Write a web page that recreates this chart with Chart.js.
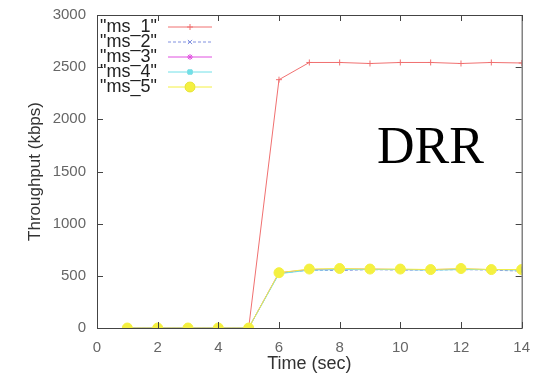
<!DOCTYPE html>
<html>
<head>
<meta charset="utf-8">
<script src="https://cdn.jsdelivr.net/npm/chart.js@4/dist/chart.umd.min.js"></script>
<style>
  body { margin: 0; background: #fff; }
  #wrap { width: 533px; height: 375px; }
</style>
</head>
<body>
<div id="wrap"><canvas id="dataChart"></canvas></div>
<script>
// data
var times = [1, 2, 3, 4, 5, 6, 7, 8, 9, 10, 11, 12, 13, 14];
var ms1 = [0, 0, 0, 0, 0, 2380, 2545, 2545, 2535, 2545, 2545, 2535, 2545, 2540];
var ms2 = [0, 0, 0, 0, 0, 525, 555, 550, 560, 555, 555, 560, 555, 545];
var ms3 = [0, 0, 0, 0, 0, 530, 560, 565, 565, 560, 560, 565, 560, 560];
var ms4 = [0, 0, 0, 0, 0, 520, 555, 560, 560, 560, 555, 560, 560, 555];
var ms5 = [0, 0, 0, 0, 0, 530, 565, 570, 565, 565, 560, 570, 560, 560];
var seriesNames = ['"ms_1"', '"ms_2"', '"ms_3"', '"ms_4"', '"ms_5"'];
var yTicks = [0, 500, 1000, 1500, 2000, 2500, 3000];
var xTicks = [0, 2, 4, 6, 8, 10, 12, 14];

function pts(vals) {
    return times.map(function(t, i) { return { x: t, y: vals[i] }; });
}

var styles = [
    { color: '#f07070', point: 'cross', dash: [] },
    { color: '#8090e0', point: 'crossRot', dash: [3, 2] },
    { color: '#e050e0', point: 'star', dash: [] },
    { color: '#70e0e8', point: 'rect', dash: [] },
    { color: '#f4f040', point: 'circle', dash: [] }
];
var allValues = [ms1, ms2, ms3, ms4, ms5];

var datasets = allValues.map(function(vals, i) {
    return {
        label: seriesNames[i],
        data: pts(vals),
        order: 5 - i, // last series on top, like gnuplot
        borderColor: styles[i].color,
        backgroundColor: styles[i].color,
        borderWidth: 1,
        borderDash: styles[i].dash,
        pointStyle: styles[i].point,
        pointRadius: i === 4 ? 5 : 3,
        pointBorderWidth: 1,
        tension: 0
    };
});

var textColor = '#666';

// frame, inside ticks, legend and DRR label
var decor = {
    id: 'decor',
    afterDraw: function(chart) {
        var c = chart.ctx, a = chart.chartArea;
        var xs = chart.scales.x, ys = chart.scales.y;
        c.save();
        c.strokeStyle = '#444';
        c.lineWidth = 1;
        c.strokeRect(a.left + 0.5, a.top + 0.5, a.right - a.left, a.bottom - a.top);
        c.beginPath();
        xTicks.forEach(function(v) {
            var px = Math.round(xs.getPixelForValue(v)) + 0.5;
            c.moveTo(px, a.bottom); c.lineTo(px, a.bottom - 6);
            c.moveTo(px, a.top); c.lineTo(px, a.top + 6);
        });
        yTicks.forEach(function(v) {
            var py = Math.round(ys.getPixelForValue(v)) + 0.5;
            c.moveTo(a.left, py); c.lineTo(a.left + 6, py);
            c.moveTo(a.right, py); c.lineTo(a.right - 6, py);
        });
        c.stroke();

        // legend
        c.font = '18px "Liberation Sans", Arial, sans-serif';
        c.textBaseline = 'middle';
        c.textAlign = 'left';
        chart.data.datasets.forEach(function(ds, i) {
            var y = a.top + 12 + i * 15;
            c.fillStyle = '#222';
            c.fillText(ds.label, a.left + 3, y);
            c.strokeStyle = ds.borderColor;
            c.setLineDash(ds.borderDash);
            c.beginPath();
            c.moveTo(a.left + 71, y); c.lineTo(a.left + 115, y);
            c.stroke();
            c.setLineDash([]);
            Chart.helpers.drawPoint(c, {
                pointStyle: ds.pointStyle, radius: ds.pointRadius,
                rotation: 0, borderWidth: 1
            }, a.left + 93, y);
            c.fillStyle = ds.backgroundColor;
            c.fill();
        });

        c.font = '52px "Liberation Serif", "Times New Roman", serif';
        c.fillStyle = '#000';
        c.textBaseline = 'alphabetic';
        c.fillText('DRR', 377, 163);
        c.restore();
    }
};

var ctx = document.getElementById('dataChart').getContext('2d');
ctx.canvas.width = 533;
ctx.canvas.height = 375;

var myChart = new Chart(ctx, {
    type: 'line',
    data: { datasets: datasets },
    options: {
        responsive: false,
        animation: false,
        layout: { autoPadding: false, padding: { left: 25, right: 10, top: 15, bottom: 0 } },
        plugins: { legend: { display: false }, tooltip: { enabled: false } },
        scales: {
            x: {
                type: 'linear',
                min: 0, max: 14,
                afterBuildTicks: function(s) { s.ticks = xTicks.map(function(v) { return { value: v }; }); },
                grid: { display: false },
                border: { display: false },
                ticks: { color: textColor, font: { size: 15, family: 'Liberation Sans' }, padding: 3 },
                title: { display: true, text: 'Time (sec)', color: '#333', font: { size: 18, family: 'Liberation Sans' }, padding: 0 },
                afterFit: function(s) { s.height = 47; }
            },
            y: {
                min: 0, max: 3000,
                afterBuildTicks: function(s) { s.ticks = yTicks.map(function(v) { return { value: v }; }); },
                grid: { display: false },
                border: { display: false },
                ticks: {
                    color: textColor, font: { size: 15, family: 'Liberation Sans' }, padding: 3,
                    callback: function(v) { return String(v); }
                },
                title: { display: true, text: 'Throughput (kbps)', color: '#333', font: { size: 17, family: 'Liberation Sans' }, padding: 0 },
                afterFit: function(s) { s.width = 72; }
            }
        }
    },
    plugins: [decor]
});
</script>
</body>
</html>
